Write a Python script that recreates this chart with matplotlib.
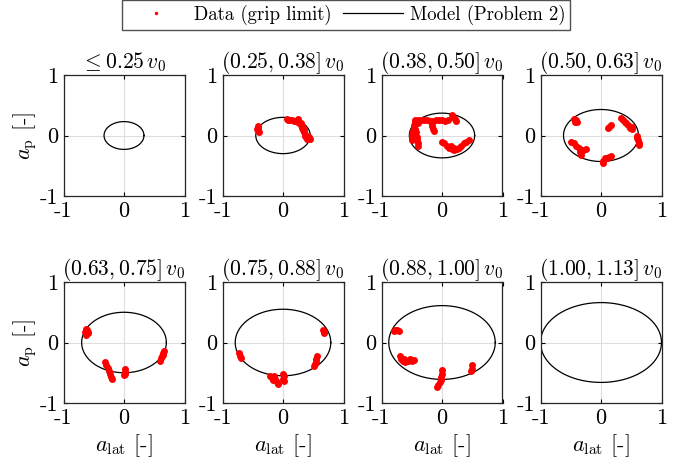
import matplotlib
matplotlib.use("Agg")
import matplotlib.pyplot as plt
import numpy as np

plt.rcParams['font.family'] = 'cmr10'
plt.rcParams['mathtext.fontset'] = 'cm'
plt.rcParams['axes.unicode_minus'] = False

titles = [r'$\leq 0.25\,v_0$', r'$(0.25, 0.38]\,v_0$', r'$(0.38, 0.50]\,v_0$', r'$(0.50, 0.63]\,v_0$',
          r'$(0.63, 0.75]\,v_0$', r'$(0.75, 0.88]\,v_0$', r'$(0.88, 1.00]\,v_0$', r'$(1.00, 1.13]\,v_0$']

# model ellipse half axes per speed bin
semi_lat = [0.33, 0.45, 0.54, 0.62, 0.70, 0.79, 0.88, 1.00]
semi_p = [0.23, 0.30, 0.37, 0.43, 0.50, 0.55, 0.61, 0.66]

# measured grip limit points (a_lat, a_p) per bin
lat_1 = []
ap_1 = []
lat_2 = [-0.42, -0.41, -0.42, -0.40, -0.43,
         0.07, 0.09, 0.12, 0.15, 0.18, 0.21, 0.24, 0.25, 0.27, 0.29, 0.31, 0.32, 0.33, 0.35, 0.36, 0.37,
         0.38, 0.39, 0.41, 0.43, 0.44, 0.35, 0.30]
ap_2 = [0.16, 0.12, 0.09, 0.06, 0.11,
        0.27, 0.25, 0.26, 0.25, 0.24, 0.24, 0.23, 0.27, 0.21, 0.18, 0.15, 0.12, 0.09, 0.06, 0.03, 0.00,
        -0.03, -0.06, -0.05, -0.03, -0.06, 0.10, 0.20]
lat_3 = [-0.45, -0.40, -0.35, -0.30, -0.25, -0.20, -0.15, -0.10, -0.05, 0.00, 0.05, 0.10, -0.45, -0.40,
         0.17, 0.19, 0.21, 0.23,
         -0.46, -0.47, -0.48, -0.49, -0.50, -0.49, -0.43, -0.42, -0.41, -0.40, -0.39, -0.44,
         -0.17, -0.16, -0.15, -0.14,
         0.00, 0.04, 0.08, 0.12, 0.16, 0.20, 0.24, 0.28, 0.32, 0.36, 0.40, 0.44, 0.15, 0.20]
ap_3 = [0.26, 0.26, 0.26, 0.25, 0.25, 0.24, 0.24, 0.25, 0.25, 0.25, 0.24, 0.25, 0.22, 0.21,
        0.34, 0.31, 0.27, 0.24,
        0.18, 0.13, 0.08, 0.03, -0.02, -0.07, 0.05, -0.02, -0.08, -0.13, -0.18, 0.10,
        0.20, 0.15, 0.11, 0.07,
        -0.10, -0.13, -0.17, -0.21, -0.23, -0.24, -0.23, -0.20, -0.17, -0.13, -0.10, -0.07, -0.18, -0.20]
lat_4 = [-0.45, -0.42, -0.40, -0.43,
         0.11, 0.14, 0.16,
         0.33, 0.36, 0.39, 0.42, 0.45, 0.48, 0.51, 0.52,
         0.59, 0.60, 0.61, 0.62, 0.63,
         -0.49, -0.45, -0.41, -0.37, -0.33, -0.29, -0.25, -0.35, -0.33, -0.31,
         0.03, 0.04, 0.06, 0.10, 0.14, 0.17]
ap_4 = [0.28, 0.25, 0.22, 0.22,
        0.12, 0.14, 0.17,
        0.29, 0.26, 0.23, 0.20, 0.17, 0.13, 0.10, 0.14,
        0.00, -0.04, -0.08, -0.12, -0.15,
        -0.10, -0.13, -0.17, -0.21, -0.24, -0.24, -0.23, -0.28, -0.32, -0.26,
        -0.46, -0.42, -0.38, -0.37, -0.35, -0.34]
lat_5 = [-0.63, -0.61, -0.64, -0.60, -0.62, -0.59,
         -0.31, -0.29, -0.27, -0.25, -0.23, -0.22, -0.20,
         0.01, 0.01, 0.02, 0.00,
         0.66, 0.64, 0.62, 0.61, 0.60, 0.64]
ap_5 = [0.22, 0.20, 0.17, 0.15, 0.13, 0.18,
        -0.32, -0.37, -0.42, -0.47, -0.52, -0.57, -0.61,
        -0.44, -0.48, -0.52, -0.53,
        -0.14, -0.18, -0.22, -0.26, -0.30, -0.21]
lat_6 = [0.66, 0.67, 0.68,
         -0.72, -0.71, -0.70,
         0.56, 0.55, 0.54, 0.53, 0.52,
         -0.21, -0.18, -0.15, -0.13, -0.10, -0.08, -0.17,
         0.00, 0.01, 0.00, 0.01]
ap_6 = [0.21, 0.18, 0.16,
        -0.18, -0.22, -0.26,
        -0.22, -0.27, -0.31, -0.35, -0.39,
        -0.56, -0.58, -0.56, -0.61, -0.65, -0.68, -0.62,
        -0.52, -0.56, -0.60, -0.63]
lat_7 = [-0.80, -0.77, -0.74, -0.71,
         -0.70, -0.68, -0.65, -0.61, -0.57, -0.53, -0.49, -0.46, -0.63,
         0.50, 0.49, 0.48,
         0.00, 0.00, -0.01, -0.02, -0.04, -0.07, -0.08]
ap_7 = [0.19, 0.20, 0.20, 0.19,
        -0.23, -0.28, -0.31, -0.32, -0.31, -0.28, -0.30, -0.29, -0.28,
        -0.38, -0.43, -0.47,
        -0.46, -0.52, -0.57, -0.62, -0.66, -0.70, -0.74]
lat_8 = []
ap_8 = []

lat_data = [lat_1, lat_2, lat_3, lat_4, lat_5, lat_6, lat_7, lat_8]
ap_data = [ap_1, ap_2, ap_3, ap_4, ap_5, ap_6, ap_7, ap_8]

fig = plt.figure(figsize=(6.95, 4.63), dpi=100)
W, H = 695.0, 463.0
lefts = [63.5, 222.5, 381.5, 540.5]
tops = [75.0, 282.0]
size = 121.0

theta = np.linspace(0, 2 * np.pi, 300)
for i in range(8):
    r, c = divmod(i, 4)
    ax = fig.add_axes([lefts[c] / W, 1 - (tops[r] + size) / H, size / W, size / H])
    ax.grid(True, color='#dddddd', lw=0.8)
    ax.set_axisbelow(True)
    l1, = ax.plot(lat_data[i], ap_data[i], 'o', color='red', ms=5, mec='none', zorder=3)
    l2, = ax.plot(semi_lat[i] * np.cos(theta), semi_p[i] * np.sin(theta), color='black', lw=0.9, zorder=2)
    ax.set_xlim(-1, 1)
    ax.set_ylim(-1, 1)
    ax.set_xticks([-1, 0, 1])
    ax.set_yticks([-1, 0, 1])
    ax.set_xticklabels(['-1', '0', '1'])
    ax.set_yticklabels(['-1', '0', '1'])
    ax.tick_params(direction='in', length=3, width=0.8, labelsize=16, top=True, right=True, pad=4)
    for s in ax.spines.values():
        s.set_linewidth(0.9)
        s.set_color('#262626')
    ax.set_title(titles[i], fontsize=15.5, pad=5)
    if c == 0:
        ax.set_ylabel(r'$a_\mathrm{p}$ [-]', fontsize=16, labelpad=0)
    if r == 1:
        ax.set_xlabel(r'$a_\mathrm{lat}$ [-]', fontsize=16, labelpad=3)

leg_dot, = fig.axes[0].plot([], [], 'o', color='red', ms=2.5, mec='none')
fig.legend([leg_dot, l2], ['Data (grip limit)', 'Model (Problem 2)'], loc='upper center',
           bbox_to_anchor=(346 / W, 1.0), ncol=2, fontsize=13.5, frameon=True, fancybox=False,
           edgecolor='#262626', handlelength=3.2, columnspacing=0.6, borderpad=0.25,
           borderaxespad=0.0, handletextpad=0.4)

fig.savefig('out.png', dpi=100)
